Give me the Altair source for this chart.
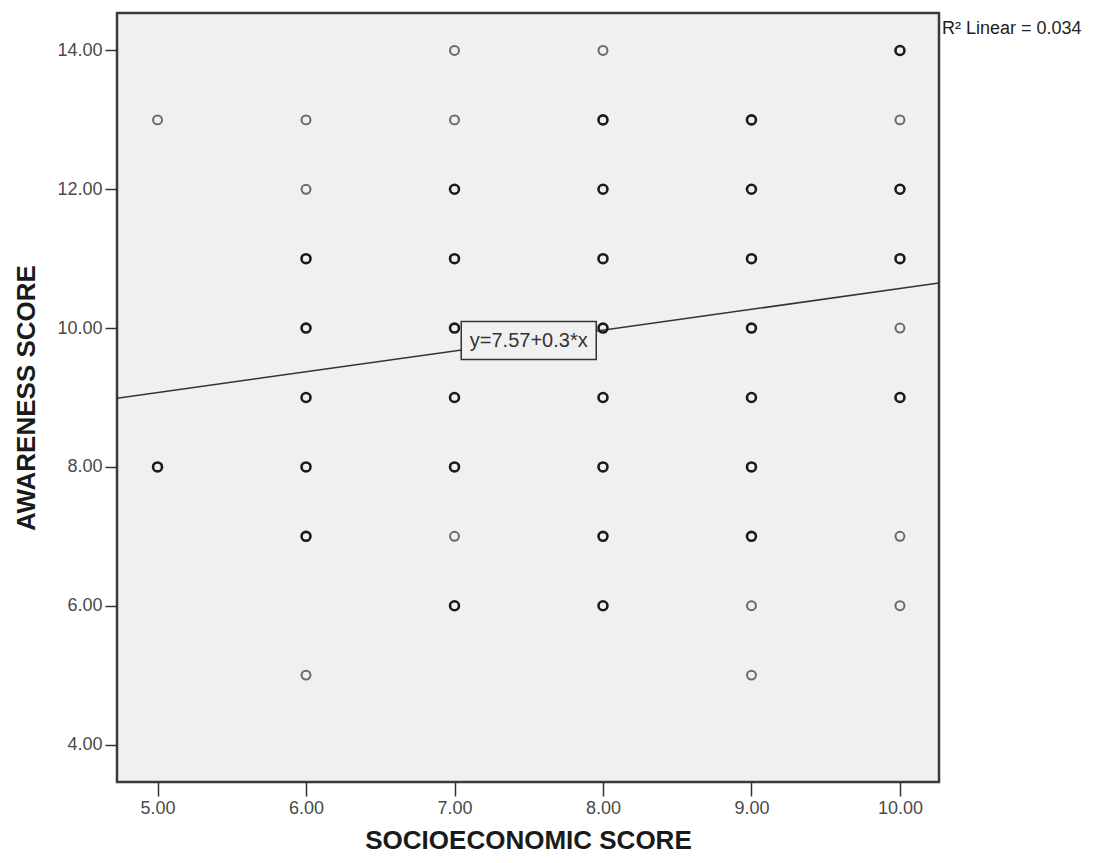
import altair as alt
import pandas as pd

# ---- data ----
socio = [5, 5,
         6, 6, 6, 6, 6, 6, 6, 6,
         7, 7, 7, 7, 7, 7, 7, 7, 7,
         8, 8, 8, 8, 8, 8, 8, 8, 8,
         9, 9, 9, 9, 9, 9, 9, 9, 9,
         10, 10, 10, 10, 10, 10, 10, 10]
aware = [13, 8,
         13, 12, 11, 10, 9, 8, 7, 5,
         14, 13, 12, 11, 10, 9, 8, 7, 6,
         14, 13, 12, 11, 10, 9, 8, 7, 6,
         13, 12, 11, 10, 9, 8, 7, 6, 5,
         14, 13, 12, 11, 10, 9, 7, 6]
# 1 = single case, 2 = several overlapping cases (drawn darker)
overlap = [1, 2,
           1, 1, 2, 2, 2, 2, 2, 1,
           1, 1, 2, 2, 2, 2, 2, 1, 2,
           1, 2, 2, 2, 2, 2, 2, 2, 2,
           2, 2, 2, 2, 2, 2, 2, 1, 1,
           2, 1, 2, 2, 1, 2, 1, 1]

x_domain = [4.727, 10.263]
y_domain = [3.46, 14.54]
x_ticks = [5, 6, 7, 8, 9, 10]
y_ticks = [4, 6, 8, 10, 12, 14]

intercept = 7.57
slope = 0.3
r_squared = 0.034
eq_label_x = [7.5]

FONT = "Liberation Sans"
BG = "#f0f0f0"

pts = pd.DataFrame({"socio": socio, "aware": aware, "n": overlap})
line_df = pd.DataFrame({"socio": x_domain})
eq_df = pd.DataFrame({"socio": eq_label_x,
                      "label": [f"y={intercept}+{slope}*x"]})
r2_df = pd.DataFrame({"label": [f"R\u00b2 Linear = {r_squared}"]})

xscale = alt.Scale(domain=x_domain, nice=False, zero=False)
yscale = alt.Scale(domain=y_domain, nice=False, zero=False)

xaxis = alt.Axis(title="SOCIOECONOMIC SCORE", values=x_ticks, format=".2f",
                 grid=False, domain=False, tickSize=14, tickWidth=1.5,
                 tickColor="#333", labelFontSize=18, labelFont=FONT,
                 labelColor="#4a4a4a", labelPadding=3,
                 titleFont=FONT, titleFontSize=26, titleFontWeight="bold",
                 titleColor="#1a1a1a", titleBaseline="alphabetic", titleY=66)
yaxis = alt.Axis(title="AWARENESS SCORE", values=y_ticks, format=".2f",
                 grid=False, domain=False, tickSize=12, tickWidth=1.5,
                 tickColor="#333", labelFontSize=18, labelFont=FONT,
                 labelColor="#4a4a4a", labelPadding=3,
                 titleFont=FONT, titleFontSize=26, titleFontWeight="bold",
                 titleColor="#1a1a1a", titleBaseline="middle", titleX=-91)

points = alt.Chart(pts).mark_point(
    shape="circle", filled=False, size=80, opacity=1
).encode(
    x=alt.X("socio:Q", scale=xscale, axis=xaxis),
    y=alt.Y("aware:Q", scale=yscale, axis=yaxis),
    stroke=alt.condition("datum.n >= 2", alt.value("#1a1a1a"), alt.value("#6a6a6a")),
    strokeWidth=alt.condition("datum.n >= 2", alt.value(2.6), alt.value(2.0)),
)

fit = alt.Chart(line_df).transform_calculate(
    aware=f"{intercept} + {slope} * datum.socio"
).mark_line(color="#333", strokeWidth=1.5, clip=True).encode(
    x=alt.X("socio:Q", scale=xscale),
    y=alt.Y("aware:Q", scale=yscale),
)

box = alt.Chart(eq_df).transform_calculate(
    aware=f"{intercept} + {slope} * datum.socio"
).mark_point(
    shape="M-1,-0.2815L1,-0.2815L1,0.2815L-1,0.2815Z",
    size=135 * 135, filled=True, fill=BG, stroke="#333", strokeWidth=1.5,
    opacity=1,
).encode(
    x=alt.X("socio:Q", scale=xscale),
    y=alt.Y("aware:Q", scale=yscale),
)

eq_text = alt.Chart(eq_df).transform_calculate(
    aware=f"{intercept} + {slope} * datum.socio"
).mark_text(
    font=FONT, fontSize=20, color="#333", align="center", baseline="middle"
).encode(
    x=alt.X("socio:Q", scale=xscale),
    y=alt.Y("aware:Q", scale=yscale),
    text="label:N",
)

r2_text = alt.Chart(r2_df).mark_text(
    font=FONT, fontSize=18, color="#222", align="left", baseline="middle",
    clip=False,
).encode(
    x=alt.value(825),
    y=alt.value(16),
    text="label:N",
)

chart = alt.layer(fit, box, eq_text, points, r2_text).properties(
    width=822, height=769,
    autosize=alt.AutoSizeParams(type="none"),
    padding={"left": 109, "top": 5, "right": 146, "bottom": 71},
    background="white",
).configure_view(
    fill=BG, stroke="#3a3a3a", strokeWidth=2.5
)

chart.save("out.html", embed_options={"renderer": "svg", "actions": False})
